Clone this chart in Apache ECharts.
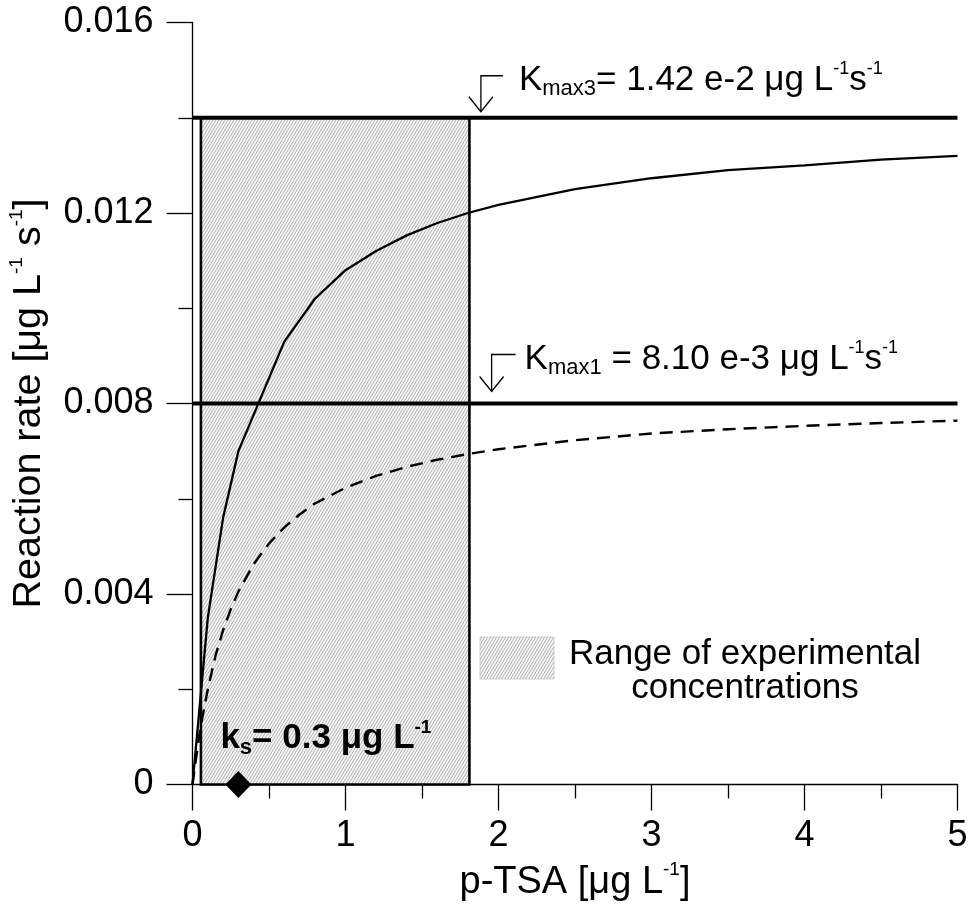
<!DOCTYPE html>
<html>
<head>
<meta charset="utf-8">
<script src="https://cdn.jsdelivr.net/npm/echarts@6/dist/echarts.min.js"></script>
<style>
  html, body { margin: 0; padding: 0; background: #fff; }
  #chart { width: 968px; height: 905px; }
</style>
</head>
<body>
<div id="chart"></div>
<script>
// Reaction rate vs. p-TSA concentration, Michaelis-Menten style curves

// fast regime (solid curve)
const concFast = [0, 0.1, 0.2, 0.3, 0.6, 0.8, 1.0, 1.2, 1.4, 1.6, 1.8, 2.0, 2.5, 3.0, 3.5, 4.0, 4.5, 5.0];
const rateFast = [0, 0.0035, 0.0056, 0.0070, 0.0093, 0.0102, 0.0108, 0.0112, 0.01153, 0.01179, 0.0120, 0.01217, 0.0125, 0.01273, 0.0129, 0.0130, 0.01312, 0.0132];

// slow regime (dashed curve)
const concSlow = [0, 0.05, 0.1, 0.15, 0.2, 0.25, 0.3, 0.4, 0.5, 0.6, 0.7, 0.8, 1.0, 1.2, 1.4, 1.6, 1.8, 2.0, 2.5, 3.0, 3.5, 4.0, 4.5, 5.0];
const rateSlow = [0, 0.00116, 0.0020, 0.0027, 0.00324, 0.00368, 0.00405, 0.00463, 0.00506, 0.0054, 0.00567, 0.0059, 0.00623, 0.00648, 0.00667, 0.00682, 0.00694, 0.00704, 0.00723, 0.00737, 0.00746, 0.00753, 0.00759, 0.00764];

// plateau levels drawn as thick horizontal lines
const plateauLevels = [0.014, 0.008];
const plateauLabels = ['K|max3|= 1.42 e-2 μg L', 'K|max1| = 8.10 e-3 μg L'];

// range of experimental concentrations [from, to, top]
const expRange = [[0.055, 1.81, 0.014]];

// half-saturation constant
const ksValue = [[0.3, 0]];

// axis ticks
const xTicks = [0, 1, 2, 3, 4, 5];
const yTicks = [0, 0.004, 0.008, 0.012, 0.016];

const FONT = '"Liberation Sans", Arial, Helvetica, sans-serif';

function makeHatch() {
  const w = 3, h = 5;
  const c = document.createElement('canvas');
  c.width = w; c.height = h;
  const g = c.getContext('2d');
  g.fillStyle = '#f5f5f5';
  g.fillRect(0, 0, w, h);
  g.strokeStyle = '#adadad';
  g.lineWidth = 0.9;
  g.beginPath();
  for (const k of [-w, 0, w]) { g.moveTo(k, h); g.lineTo(k + w, 0); }
  g.stroke();
  return c;
}
const hatch = { image: makeHatch(), repeat: 'repeat' };

const chart = echarts.init(document.getElementById('chart'), null, { renderer: 'canvas' });

const axisCommon = {
  type: 'value',
  axisLine: { show: true, lineStyle: { color: '#000', width: 1.3 } },
  axisTick: { show: true, inside: false, length: 26, lineStyle: { color: '#000', width: 1.3 } },
  minorTick: { show: true, splitNumber: 2, length: 14, lineStyle: { color: '#000', width: 1.3 } },
  splitLine: { show: false },
  minorSplitLine: { show: false },
  axisLabel: { color: '#000', fontSize: 36, fontFamily: FONT }
};

const nameRich = (size) => ({
  t: { fontSize: size, fontFamily: FONT, color: '#000', lineHeight: 44 },
  p: { fontSize: 19, fontFamily: FONT, color: '#000', verticalAlign: 'top', lineHeight: 30 }
});

const option = {
  animation: false,
  backgroundColor: '#fff',
  grid: { left: 192.5, right: 10.5, top: 22.5, bottom: 120.5, outerBoundsMode: 'none' },
  xAxis: Object.assign({}, axisCommon, {
    min: xTicks[0], max: xTicks[xTicks.length - 1], interval: 1,
    axisLabel: Object.assign({}, axisCommon.axisLabel, { margin: 34 }),
    name: '{t|p-TSA [μg L}{p|-1}{t|]}',
    nameLocation: 'middle',
    nameGap: 76,
    nameTextStyle: { rich: nameRich(38) }
  }),
  yAxis: Object.assign({}, axisCommon, {
    min: yTicks[0], max: yTicks[yTicks.length - 1], interval: 0.004,
    axisLabel: Object.assign({}, axisCommon.axisLabel, {
      margin: 39,
      formatter: v => (v === 0 ? '0' : v.toFixed(3))
    }),
    name: '{t|Reaction rate [μg L}{p|-1}{t| s}{p|-1}{t|]}',
    nameLocation: 'middle',
    nameGap: 141,
    nameRotate: 90,
    nameTextStyle: { rich: nameRich(39.5) }
  }),
  series: [
    {
      name: 'experimental range',
      type: 'custom',
      z: 1,
      silent: true,
      encode: { x: [0, 1], y: 2 },
      data: expRange,
      renderItem: (params, api) => {
        const p0 = api.coord([api.value(0), 0]);
        const p1 = api.coord([api.value(1), api.value(2)]);
        return {
          type: 'rect',
          shape: { x: p0[0], y: p1[1], width: p1[0] - p0[0], height: p0[1] - p1[1] },
          style: { fill: hatch, stroke: '#000', lineWidth: 2.6 }
        };
      }
    },
    {
      name: 'fast',
      type: 'line',
      z: 3,
      symbol: 'none',
      smooth: false,
      data: concFast.map((x, i) => [x, rateFast[i]]),
      lineStyle: { color: '#000', width: 2.3 }
    },
    {
      name: 'slow',
      type: 'line',
      z: 3,
      symbol: 'none',
      smooth: false,
      data: concSlow.map((x, i) => [x, rateSlow[i]]),
      lineStyle: { color: '#000', width: 2.4, type: [13, 8] }
    },
    ...plateauLevels.map((lvl, i) => ({
      name: 'plateau ' + i,
      type: 'line',
      z: 4,
      symbol: 'none',
      data: [[xTicks[0], lvl], [xTicks[xTicks.length - 1], lvl]],
      lineStyle: { color: '#000', width: 3.8 }
    })),
    {
      name: 'ks',
      type: 'scatter',
      z: 5,
      clip: false,
      symbol: 'diamond',
      symbolSize: [26, 27],
      itemStyle: { color: '#000', opacity: 1 },
      data: ksValue
    }
  ]
};

chart.setOption(option);

// annotations placed relative to data anchors
const px = (x, y) => chart.convertToPixel({ gridIndex: 0 }, [x, y]);

function arrow(tip, topLen, barLen) {
  const [tx, ty] = tip;
  return [
    {
      type: 'polyline', z: 10,
      shape: { points: [[tx + barLen, ty - topLen], [tx, ty - topLen], [tx, ty]] },
      style: { stroke: '#000', lineWidth: 1.3, fill: null }
    },
    {
      type: 'polyline', z: 10,
      shape: { points: [[tx - 12, ty - 15], [tx, ty], [tx + 12, ty - 15]] },
      style: { stroke: '#000', lineWidth: 1.3, fill: null }
    }
  ];
}

function kLabel(parts, left, baseline, size, subSize) {
  const [k, sub, rest] = parts.split('|');
  return {
    type: 'text', z: 10,
    x: left, y: baseline - (20 + size * 0.33),
    style: {
      text: '{t|' + k + '}{s|' + sub + '}{t|' + rest + '}{p|-1}{t|s}{p|-1}',
      verticalAlign: 'top',
      align: 'left',
      rich: {
        t: { fontSize: size, fontFamily: FONT, fill: '#000', lineHeight: 40 },
        s: { fontSize: subSize, fontFamily: FONT, fill: '#000', verticalAlign: 'bottom', lineHeight: 18 },
        p: { fontSize: 18, fontFamily: FONT, fill: '#000', verticalAlign: 'top', lineHeight: 25 }
      }
    }
  };
}

const tip3 = px(1.885, plateauLevels[0]); tip3[1] -= 6;
const tip1 = px(1.955, plateauLevels[1]); tip1[1] -= 12;
const ksPt = px(ksValue[0][0], ksValue[0][1]);

const graphics = []
  .concat(arrow(tip3, 36, 22))
  .concat(arrow(tip1, 37, 24))
  .concat([
    kLabel(plateauLabels[0], tip3[0] + 38, tip3[1] - 20, 35, 22),
    kLabel(plateauLabels[1], tip1[0] + 33, tip1[1] - 21, 35, 22),
    {
      type: 'text', z: 10,
      x: ksPt[0] - 18, y: ksPt[1] - 34.5 - (20 + 35 * 0.33),
      style: {
        text: '{b|k}{s|s}{b|= 0.3 μg L}{p|-1}',
        verticalAlign: 'top',
        rich: {
          b: { fontSize: 35, fontWeight: 'bold', fontFamily: FONT, fill: '#000', lineHeight: 40 },
          s: { fontSize: 22, fontWeight: 'bold', fontFamily: FONT, fill: '#000', verticalAlign: 'bottom', lineHeight: 16 },
          p: { fontSize: 19, fontWeight: 'bold', fontFamily: FONT, fill: '#000', verticalAlign: 'top', lineHeight: 25 }
        }
      }
    },
    // legend for the hatched region
    {
      type: 'rect', z: 10,
      shape: { x: 480, y: 637, width: 74, height: 42 },
      style: { fill: hatch, stroke: '#c4c4c4', lineWidth: 0.8 }
    },
    {
      type: 'text', z: 10,
      x: 745, y: 637,
      style: {
        text: 'Range of experimental\nconcentrations',
        align: 'center',
        verticalAlign: 'top',
        font: '35px ' + FONT,
        lineHeight: 34,
        fill: '#000'
      }
    }
  ]);

chart.setOption({ graphic: graphics });
</script>
</body>
</html>
